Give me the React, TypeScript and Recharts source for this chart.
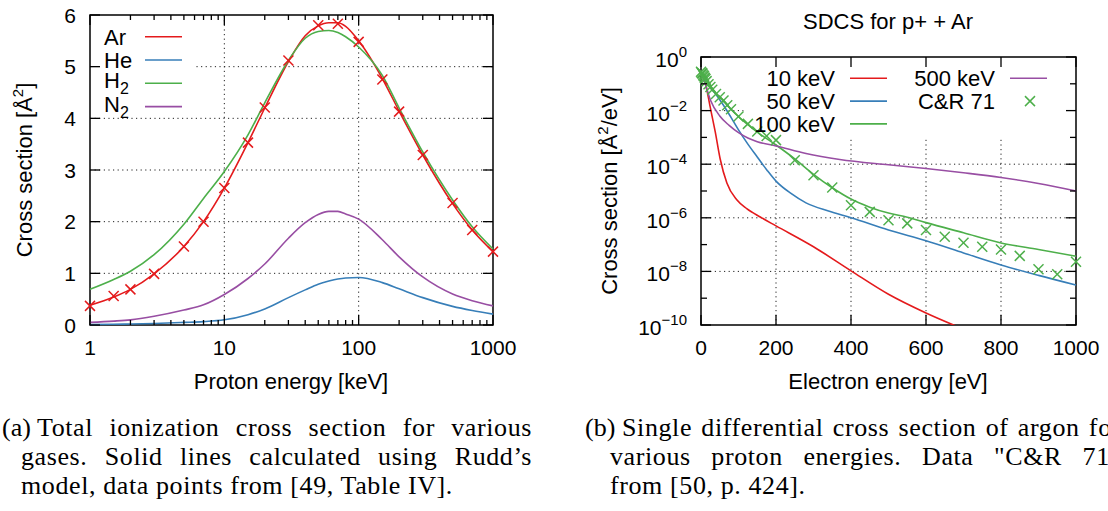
import React from 'react';
import { ComposedChart, Line, Scatter, XAxis, YAxis, ReferenceLine, ReferenceArea, Legend } from 'recharts';

const SANS = '"Liberation Sans", Arial, Helvetica, sans-serif';
const SERIF = '"Liberation Serif", "Times New Roman", serif';

const RED = '#e41a1c';
const BLUE = '#377eb8';
const GREEN = '#4daf4a';
const PURPLE = '#984ea3';

// ---- (a) total ionization cross section vs proton energy [keV] ----
const E_KEV = [1, 1.5, 2, 3, 5, 7, 10, 15, 20, 30, 40, 50, 60, 70, 80, 100, 150, 200, 300, 500, 700, 1000];
const AR_CURVE = [0.38, 0.54, 0.69, 0.99, 1.52, 2.0, 2.65, 3.53, 4.2, 5.1, 5.6, 5.79, 5.85, 5.85, 5.78, 5.5, 4.77, 4.14, 3.29, 2.35, 1.84, 1.42];
const HE_CURVE = [0.01, 0.015, 0.02, 0.03, 0.05, 0.065, 0.1, 0.2, 0.31, 0.53, 0.68, 0.79, 0.85, 0.89, 0.91, 0.92, 0.82, 0.7, 0.53, 0.36, 0.28, 0.21];
const H2_CURVE = [0.69, 0.88, 1.04, 1.36, 1.95, 2.45, 2.97, 3.68, 4.3, 5.12, 5.55, 5.68, 5.7, 5.66, 5.58, 5.38, 4.83, 4.2, 3.35, 2.42, 1.9, 1.47];
const N2_CURVE = [0.05, 0.075, 0.1, 0.17, 0.29, 0.39, 0.59, 0.9, 1.18, 1.68, 1.98, 2.14, 2.2, 2.2, 2.15, 2.05, 1.65, 1.32, 0.93, 0.6, 0.47, 0.37];
const AR_POINTS_E = [1, 1.5, 2, 3, 5, 7, 10, 15, 20, 30, 50, 70, 100, 150, 200, 300, 500, 700, 1000];
const AR_POINTS = [0.37, 0.56, 0.69, 0.99, 1.52, 2.0, 2.65, 3.53, 4.21, 5.12, 5.8, 5.83, 5.48, 4.75, 4.13, 3.29, 2.36, 1.84, 1.42];
const KEV_TICKS = [1, 2, 3, 4, 5, 6, 7, 8, 9, 10, 20, 30, 40, 50, 60, 70, 80, 90, 100, 200, 300, 400, 500, 600, 700, 800, 900, 1000];
const KEV_LABELS = [1, 10, 100, 1000];
const TOTAL_TICKS = [0, 1, 2, 3, 4, 5, 6];

// ---- (b) SDCS for p+ + Ar vs electron energy [eV] ----
const EV_10 = [0, 5, 10, 16, 25, 38, 51, 69, 96, 122, 158, 200, 300, 400, 500, 600, 700];
const SDCS_10 = [0.251, 0.19, 0.132, 0.056, 0.0126, 1.6e-3, 1.6e-4, 2.0e-5, 4.6e-6, 2.2e-6, 1.07e-6, 5.0e-7, 8.3e-8, 1.05e-8, 1.4e-9, 2.8e-10, 7e-11];
const EV_50 = [0, 10, 20, 40, 60, 80, 100, 125, 150, 176, 200, 240, 280, 340, 400, 500, 600, 700, 800, 900, 1000];
const SDCS_50 = [0.251, 0.141, 0.089, 0.04, 0.0158, 5.6e-3, 1.9e-3, 5.6e-4, 1.86e-4, 6.0e-5, 2.34e-5, 8.1e-6, 3.6e-6, 1.78e-6, 1.0e-6, 3.5e-7, 1.38e-7, 4.9e-8, 1.74e-8, 7.1e-9, 3.1e-9];
const EV_100 = [0, 10, 20, 40, 60, 80, 100, 125, 150, 200, 250, 300, 350, 400, 450, 500, 550, 600, 700, 800, 900, 1000];
const SDCS_100 = [0.251, 0.158, 0.1, 0.045, 0.024, 0.0112, 6.0e-3, 3.0e-3, 1.58e-3, 5.2e-4, 1.58e-4, 4.2e-5, 1.32e-5, 5.0e-6, 2.5e-6, 1.5e-6, 1.05e-6, 6.6e-7, 2.75e-7, 1.15e-7, 6.6e-8, 3.7e-8];
const EV_500 = [0, 10, 25, 50, 75, 100, 125, 150, 200, 280, 370, 500, 600, 700, 800, 900, 1000];
const SDCS_500 = [0.251, 0.112, 0.025, 6.3e-3, 2.8e-3, 1.5e-3, 9.5e-4, 6.9e-4, 4.8e-4, 2.5e-4, 1.5e-4, 9.5e-5, 6.9e-5, 4.8e-5, 3.2e-5, 1.9e-5, 1.0e-5];
const CR71_EV = [0, 2, 4, 6, 8, 10, 12, 15, 20, 25, 30, 40, 50, 60, 70, 80, 100, 125, 150, 175, 200, 250, 300, 350, 400, 450, 500, 550, 600, 650, 700, 750, 800, 850, 900, 950, 1000];
const CR71 = [0.282, 0.251, 0.24, 0.209, 0.19, 0.166, 0.151, 0.126, 0.0955, 0.0759, 0.0603, 0.0417, 0.0316, 0.024, 0.0158, 0.0112, 6.0e-3, 3.2e-3, 1.66e-3, 1.12e-3, 7.9e-4, 1.41e-4, 3.9e-5, 1.35e-5, 2.95e-6, 1.66e-6, 8.1e-7, 6.2e-7, 3.5e-7, 1.95e-7, 1.17e-7, 8.3e-8, 6.6e-8, 3.8e-8, 1.2e-8, 7.8e-9, 2.3e-8];
const EV_TICKS = [0, 200, 400, 600, 800, 1000];
const SDCS_TICKS = [1, 1e-1, 1e-2, 1e-3, 1e-4, 1e-5, 1e-6, 1e-7, 1e-8, 1e-9, 1e-10];

const zip = (xs: number[], ys: number[]) => xs.map((e, i) => ({ e, v: ys[i] }));

// chart geometry (gnuplot-like boxed plots with inward ticks on all sides)
const A_MARGIN = { top: 15, right: 27, bottom: 0, left: 0 };
const A_YW = 90;
const A_XH = 75;
const A_PLOT_W = 520 - A_MARGIN.right - A_YW;
const A_PLOT_H = 400 - A_MARGIN.top - A_XH;

const B_MARGIN = { top: 57, right: 32, bottom: 0, left: 0 };
const B_YW = 141;
const B_XH = 75;
const B_PLOT_W = 548 - B_MARGIN.right - B_YW;
const B_PLOT_H = 400 - B_MARGIN.top - B_XH;

const TICK = { stroke: '#000', strokeWidth: 1.3 };
const GRID = { stroke: '#222', strokeWidth: 1, strokeDasharray: '1.2 3.4' };

type TickProps = { x?: number; y?: number; payload?: { value: number } };

function KevTick({ x = 0, y = 0, payload }: TickProps) {
  const v = payload?.value ?? 0;
  const major = KEV_LABELS.includes(v);
  const len = major ? 10 : 5;
  return (
    <g>
      <line x1={x} y1={y} x2={x} y2={y - len} {...TICK} />
      <line x1={x} y1={y - A_PLOT_H} x2={x} y2={y - A_PLOT_H + len} {...TICK} />
      {major && (
        <text x={x} y={y + 30} textAnchor="middle" fontFamily={SANS} fontSize={21} fill="#000">
          {v}
        </text>
      )}
    </g>
  );
}

function TotalTick({ x = 0, y = 0, payload }: TickProps) {
  const v = payload?.value ?? 0;
  return (
    <g>
      <line x1={x} y1={y} x2={x + 10} y2={y} {...TICK} />
      <line x1={x + A_PLOT_W} y1={y} x2={x + A_PLOT_W - 10} y2={y} {...TICK} />
      <text x={x - 14} y={y + 7.5} textAnchor="end" fontFamily={SANS} fontSize={21} fill="#000">
        {v}
      </text>
    </g>
  );
}

function EvTick({ x = 0, y = 0, payload }: TickProps) {
  const v = payload?.value ?? 0;
  return (
    <g>
      <line x1={x} y1={y} x2={x} y2={y - 10} {...TICK} />
      <line x1={x} y1={y - B_PLOT_H} x2={x} y2={y - B_PLOT_H + 10} {...TICK} />
      <text x={x} y={y + 30} textAnchor="middle" fontFamily={SANS} fontSize={21} fill="#000">
        {v}
      </text>
    </g>
  );
}

function SdcsTick({ x = 0, y = 0, payload }: TickProps) {
  const v = payload?.value ?? 1;
  const exp = Math.round(Math.log10(v));
  const major = exp % 2 === 0;
  const len = major ? 10 : 6;
  return (
    <g>
      <line x1={x} y1={y} x2={x + len} y2={y} {...TICK} />
      <line x1={x + B_PLOT_W} y1={y} x2={x + B_PLOT_W - len} y2={y} {...TICK} />
      {major && (
        <text x={x - 14} y={y + 10} textAnchor="end" fontFamily={SANS} fontSize={21} fill="#000">
          10
          <tspan dy={-10} fontSize={15}>
            {exp === 0 ? '0' : `\u2212${-exp}`}
          </tspan>
        </text>
      )}
    </g>
  );
}

function XMark({ cx = 0, cy = 0, color }: { cx?: number; cy?: number; color: string }) {
  const r = 5;
  return (
    <g stroke={color} strokeWidth={1.5}>
      <line x1={cx - r} y1={cy - r} x2={cx + r} y2={cy + r} />
      <line x1={cx - r} y1={cy + r} x2={cx + r} y2={cy - r} />
    </g>
  );
}

const GAS_KEYS = [
  { name: 'Ar', sub: '', color: RED },
  { name: 'He', sub: '', color: BLUE },
  { name: 'H', sub: '2', color: GREEN },
  { name: 'N', sub: '2', color: PURPLE },
];

function GasKey() {
  return (
    <svg width={110} height={112} style={{ display: 'block' }}>
      {GAS_KEYS.map((k, i) => {
        const row = 21.7 + i * 23.3;
        return (
          <g key={k.name}>
            <text x={14} y={row + (k.sub ? 5 : 8)} fontFamily={SANS} fontSize={22} fill="#000">
              {k.name}
              {k.sub && (
                <tspan dy={6} fontSize={16}>
                  {k.sub}
                </tspan>
              )}
            </text>
            <line x1={55} y1={row} x2={92} y2={row} stroke={k.color} strokeWidth={1.6} />
          </g>
        );
      })}
    </svg>
  );
}

const SDCS_KEYS = [
  { name: '10 keV', color: RED, col: 0, row: 0 },
  { name: '50 keV', color: BLUE, col: 0, row: 1 },
  { name: '100 keV', color: GREEN, col: 0, row: 2 },
  { name: '500 keV', color: PURPLE, col: 1, row: 0 },
];

function SdcsKey() {
  const rowY = (r: number) => 21.3 + r * 22.8;
  const colX = [92, 252];
  return (
    <svg width={333} height={80} style={{ display: 'block' }}>
      {SDCS_KEYS.map((k) => (
        <g key={k.name}>
          <text x={colX[k.col]} y={rowY(k.row) + 7.7} textAnchor="end" fontFamily={SANS} fontSize={22} fill="#000">
            {k.name}
          </text>
          <line x1={colX[k.col] + 15} y1={rowY(k.row)} x2={colX[k.col] + 52} y2={rowY(k.row)} stroke={k.color} strokeWidth={1.6} />
        </g>
      ))}
      <text x={colX[1]} y={rowY(1) + 7.7} textAnchor="end" fontFamily={SANS} fontSize={22} fill="#000">
        C&amp;R 71
      </text>
      <XMark cx={colX[1] + 35} cy={rowY(1)} color={GREEN} />
    </svg>
  );
}

function TotalChart() {
  return (
    <ComposedChart width={520} height={400} margin={A_MARGIN}>
      <XAxis
        dataKey="e"
        type="number"
        scale="log"
        domain={[1, 1000]}
        ticks={KEV_TICKS}
        interval={0}
        height={A_XH}
        axisLine={false}
        tickLine={false}
        tickSize={0}
        tickMargin={0}
        tick={(p: any) => <KevTick {...p} />}
      />
      <YAxis
        type="number"
        domain={[0, 6]}
        ticks={TOTAL_TICKS}
        interval={0}
        width={A_YW}
        axisLine={false}
        tickLine={false}
        tickSize={0}
        tickMargin={0}
        tick={(p: any) => <TotalTick {...p} />}
      />
      <ReferenceLine x={10} {...GRID} />
      <ReferenceLine x={100} {...GRID} />
      {[1, 2, 3, 4].map((v) => (
        <ReferenceLine key={v} y={v} {...GRID} />
      ))}
      <ReferenceLine segment={[{ x: 6.2, y: 5 }, { x: 1000, y: 5 }]} {...GRID} />
      <Line data={zip(E_KEV, AR_CURVE)} dataKey="v" type="monotone" stroke={RED} strokeWidth={1.6} dot={false} activeDot={false} isAnimationActive={false} />
      <Scatter data={zip(AR_POINTS_E, AR_POINTS)} dataKey="v" shape={(p: any) => <XMark cx={p.cx} cy={p.cy} color={RED} />} isAnimationActive={false} />
      <Line data={zip(E_KEV, HE_CURVE)} dataKey="v" type="monotone" stroke={BLUE} strokeWidth={1.6} dot={false} activeDot={false} isAnimationActive={false} />
      <Line data={zip(E_KEV, H2_CURVE)} dataKey="v" type="monotone" stroke={GREEN} strokeWidth={1.6} dot={false} activeDot={false} isAnimationActive={false} />
      <Line data={zip(E_KEV, N2_CURVE)} dataKey="v" type="monotone" stroke={PURPLE} strokeWidth={1.6} dot={false} activeDot={false} isAnimationActive={false} />
      <ReferenceArea x1={1} x2={1000} y1={0} y2={6} fill="none" stroke="#000" strokeWidth={1.5} />
      <Legend
        layout="vertical"
        align="center"
        verticalAlign="middle"
        content={() => <GasKey />}
        wrapperStyle={{ left: 90, top: 15, width: 110, height: 112 }}
      />
    </ComposedChart>
  );
}

function SdcsChart() {
  return (
    <ComposedChart width={548} height={400} margin={B_MARGIN}>
      <XAxis
        dataKey="e"
        type="number"
        domain={[0, 1000]}
        ticks={EV_TICKS}
        interval={0}
        height={B_XH}
        axisLine={false}
        tickLine={false}
        tickSize={0}
        tickMargin={0}
        tick={(p: any) => <EvTick {...p} />}
      />
      <YAxis
        yAxisId="sdcs"
        type="number"
        scale="log"
        domain={[1e-10, 1]}
        allowDataOverflow
        ticks={SDCS_TICKS}
        interval={0}
        width={B_YW}
        axisLine={false}
        tickLine={false}
        tickSize={0}
        tickMargin={0}
        tick={(p: any) => <SdcsTick {...p} />}
      />
      <YAxis yAxisId="pts" orientation="right" type="number" scale="log" domain={[1e-10, 1]} hide />
      {[200, 400, 600, 800].map((v) => (
        <ReferenceLine key={v} yAxisId="sdcs" segment={[{ x: v, y: 1e-10 }, { x: v, y: 1e-3 }]} {...GRID} />
      ))}
      <ReferenceLine yAxisId="sdcs" segment={[{ x: 0, y: 1e-2 }, { x: 113, y: 1e-2 }]} {...GRID} />
      {[1e-4, 1e-6, 1e-8].map((v) => (
        <ReferenceLine key={v} yAxisId="sdcs" y={v} {...GRID} />
      ))}
      <Line yAxisId="sdcs" data={zip(EV_10, SDCS_10)} dataKey="v" type="monotone" stroke={RED} strokeWidth={1.6} dot={false} activeDot={false} isAnimationActive={false} />
      <Line yAxisId="sdcs" data={zip(EV_50, SDCS_50)} dataKey="v" type="monotone" stroke={BLUE} strokeWidth={1.6} dot={false} activeDot={false} isAnimationActive={false} />
      <Line yAxisId="sdcs" data={zip(EV_100, SDCS_100)} dataKey="v" type="monotone" stroke={GREEN} strokeWidth={1.6} dot={false} activeDot={false} isAnimationActive={false} />
      <Line yAxisId="sdcs" data={zip(EV_500, SDCS_500)} dataKey="v" type="monotone" stroke={PURPLE} strokeWidth={1.6} dot={false} activeDot={false} isAnimationActive={false} />
      <Scatter yAxisId="pts" data={zip(CR71_EV, CR71)} dataKey="v" shape={(p: any) => <XMark cx={p.cx} cy={p.cy} color={GREEN} />} isAnimationActive={false} />
      <ReferenceArea yAxisId="sdcs" x1={0} x2={1000} y1={1e-10} y2={1} fill="none" stroke="#000" strokeWidth={1.5} />
      <Legend
        layout="vertical"
        align="center"
        verticalAlign="middle"
        content={() => <SdcsKey />}
        wrapperStyle={{ left: 183, top: 57, width: 333, height: 80 }}
      />
    </ComposedChart>
  );
}

const abs = (left: number, top: number): React.CSSProperties => ({ position: 'absolute', left, top });

const axisTitle: React.CSSProperties = { fontFamily: SANS, fontSize: 22, lineHeight: '22px', whiteSpace: 'nowrap', color: '#000' };
const sup: React.CSSProperties = { fontSize: 15, position: 'relative', top: -9 };
const caption: React.CSSProperties = { fontFamily: SERIF, fontSize: 26, letterSpacing: 0.6, lineHeight: '29px', whiteSpace: 'nowrap', color: '#000' };
const tag: React.CSSProperties = { ...caption, letterSpacing: 0 };
const justified: React.CSSProperties = { ...caption, whiteSpace: 'normal', textAlign: 'justify', textAlignLast: 'justify' };

export default function App() {
  return (
    <div style={{ position: 'absolute', left: 0, top: 0, width: 1108, height: 511, overflow: 'hidden', background: '#fff' }}>
      <div style={abs(0, 0)}>
        <TotalChart />
      </div>
      <div style={abs(560, 0)}>
        <SdcsChart />
      </div>

      <div style={{ ...abs(26, 170), ...axisTitle, transform: 'translate(-50%, -50%) rotate(-90deg)' }}>
        Cross section [Å<span style={sup}>2</span>]
      </div>
      <div style={{ ...abs(291, 371), ...axisTitle, transform: 'translateX(-50%)' }}>Proton energy [keV]</div>

      <div style={{ ...abs(888, 11), ...axisTitle, transform: 'translateX(-50%)' }}>SDCS for p+ + Ar</div>
      <div style={{ ...abs(611, 191), ...axisTitle, transform: 'translate(-50%, -50%) rotate(-90deg)' }}>
        Cross section [Å<span style={sup}>2</span>/eV]
      </div>
      <div style={{ ...abs(888, 371), ...axisTitle, transform: 'translateX(-50%)' }}>Electron energy [eV]</div>

      <div style={{ ...abs(2, 413), ...tag }}>(a)</div>
      <div style={{ ...abs(37, 413), ...justified, width: 495 }}>Total ionization cross section for various</div>
      <div style={{ ...abs(21, 442), ...justified, width: 511 }}>gases. Solid lines calculated using Rudd’s</div>
      <div style={{ ...abs(21, 471), ...caption }}>model, data points from [49, Table IV].</div>

      <div style={{ ...abs(585, 413), ...tag }}>(b)</div>
      <div style={{ ...abs(622, 413), ...justified, width: 499 }}>Single differential cross section of argon for</div>
      <div style={{ ...abs(610, 442), ...justified, width: 511 }}>various proton energies. Data "C&amp;R 71"</div>
      <div style={{ ...abs(610, 471), ...caption }}>from [50, p. 424].</div>
    </div>
  );
}
